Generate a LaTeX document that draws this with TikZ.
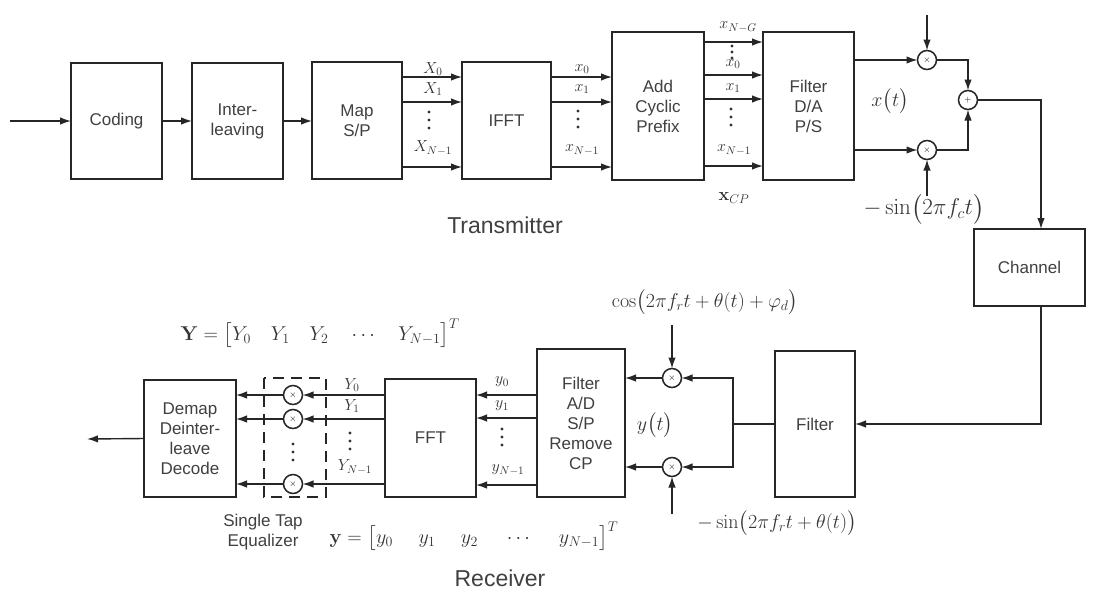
\RequirePackage{fix-cm}
\documentclass[tikz,border=0pt]{standalone}
\usepackage{amsmath}
\usepackage[no-math]{fontspec}
\setmainfont{Liberation Sans}
\usetikzlibrary{arrows.meta,calc}
\newcommand\vd[3][8]{\foreach \k in {-1,0,1}{\fill[black!80] ({#2},{#3+#1*(\k)}) circle (1.7pt);}}
\begin{document}
\begin{tikzpicture}[x=1pt,y=-1pt,
  box/.style={draw=black!85, line width=1.8pt, align=center, font=\fontsize{17}{20}\selectfont, text=black!75, inner sep=0pt, outer sep=0pt},
  arr/.style={draw=black!85, line width=1.4pt, -{Latex[length=11pt,width=7.5pt]}},
  ln/.style={draw=black!85, line width=1.4pt},
  mix/.style={circle, draw=black!85, line width=1.5pt, minimum size=19pt, inner sep=0pt, outer sep=0pt, font=\fontsize{9}{9}\selectfont},
  lbl/.style={font=\fontsize{16}{18}\selectfont, text=black!80, inner sep=0pt},
  big/.style={font=\fontsize{20}{24}\selectfont, text=black!80, inner sep=0pt},
  title/.style={font=\fontsize{23}{26}\selectfont, text=black!75, inner sep=0pt}]
\useasboundingbox (0,0) rectangle (1098,590);
\fill[white] (0,0) rectangle (1098,590);

% ---------------- Transmitter ----------------
\node[box, minimum width=91pt, minimum height=116pt] (coding) at (116.5,121) {Coding};
\node[box, minimum width=91pt, minimum height=116pt] (inter) at (237.5,121) {Inter-\\leaving};
\node[box, minimum width=90pt, minimum height=117pt] (map) at (357,120.5) {Map\\S/P};
\node[box, minimum width=89pt, minimum height=117pt] (ifft) at (506.5,120.5) {IFFT};
\node[box, minimum width=92pt, minimum height=148pt] (addcp) at (658,106) {Add\\Cyclic\\Prefix};
\node[box, minimum width=91pt, minimum height=148pt] (filt) at (808.5,106) {Filter\\D/A\\P/S};

\coordinate (in) at (10,121);
\draw[arr] (in) -- (coding.west);
\draw[arr] (coding.east) -- (inter.west);
\draw[arr] (inter.east) -- (map.west |- inter.east);

\foreach \yy in {77,102,167} {
  \draw[arr] (map.east |- 0,\yy) -- (ifft.west |- 0,\yy);
  \draw[arr] (ifft.east |- 0,\yy) -- (addcp.west |- 0,\yy);
}
\foreach \yy in {42,75,99,166} {
  \draw[arr] (addcp.east |- 0,\yy) -- (filt.west |- 0,\yy);
}

\node[lbl] (lX0) at (433,69) {$X_0$};
\node[lbl] (lX1) at (433,89) {$X_1$};
\vd{429}{120}
\node[lbl] (lXN) at (433,148) {$X_{N-1}$};

\node[lbl] (lx0) at (582,69) {$x_0$};
\node[lbl] (lx1) at (582,89) {$x_1$};
\vd{578}{119}
\node[lbl] (lxN) at (582,150) {$x_{N-1}$};

\node[lbl] (lxNG) at (738,27) {$x_{N-G}$};
\vd[6]{732}{52}
\node[lbl] (lxc0) at (733,64) {$x_0$};
\node[lbl] (lxc1) at (733,88) {$x_1$};
\vd{731}{117}
\node[lbl] (lxcN) at (734,150) {$x_{N-1}$};
\node[lbl, font=\fontsize{18}{20}\selectfont] (xcp) at (734,198) {$\mathbf{x}_{CP}$};

% mixers tx
\node[mix] (m1) at (927,60) {$\times$};
\node[mix] (m2) at (927,150) {$\times$};
\node[mix] (add) at (968,100) {$+$};
\coordinate (lo1) at (927,15);
\coordinate (lo2) at (927,196);
\draw[arr] (filt.east |- m1) -- (m1.west);
\draw[arr] (filt.east |- m2) -- (m2.west);
\draw[arr] (lo1) -- (m1.north);
\draw[arr] (lo2) -- (m2.south);
\draw[arr] (m1.east) -| (add.north);
\draw[arr] (m2.east) -| (add.south);
\node[big] (xt) at (890,101) {$x\bigl(t\bigr)$};
\node[big, font=\fontsize{23}{26}\selectfont] (sinc) at (924,209) {$-\sin\bigl(2\pi f_c t\bigr)$};

\node[title] (tx) at (505,225) {Transmitter};

% channel
\node[box, line width=1.5pt, minimum width=111pt, minimum height=77pt] (chan) at (1029.5,267.5) {Channel};
\draw[arr] (add.east) -| (chan.north -| 1041,0);

% ---------------- Receiver ----------------
\node[box, minimum width=80pt, minimum height=146pt] (rfilt) at (815,424) {Filter};
\node[box, minimum width=88pt, minimum height=148pt] (radc) at (581,423) {Filter\\A/D\\S/P\\Remove\\CP};
\node[box, minimum width=91pt, minimum height=118pt] (fft) at (430.5,438) {FFT};
\node[box, minimum width=92pt, minimum height=117pt] (demap) at (190,438.5) {Demap\\Deinter-\\leave\\Decode};

\draw[arr] (chan.south -| 1041,0) |- (rfilt.east);

\node[mix] (rm1) at (672,378) {$\times$};
\node[mix] (rm2) at (672,467) {$\times$};
\coordinate (j) at (733,424);
\draw[ln] (rfilt.west) -- (j);
\draw[arr] (j) |- (rm1.east);
\draw[arr] (j) |- (rm2.east);
\draw[arr] (rm1.west) -- (radc.east |- rm1);
\draw[arr] (rm2.west) -- (radc.east |- rm2);
\coordinate (cosin) at (672,325);
\coordinate (sinin) at (672,514);
\draw[arr] (cosin) -- (rm1.north);
\draw[arr] (sinin) -- (rm2.south);
\node[big] (cosl) at (705,302) {$\cos\bigl(2\pi f_r t+\theta(t)+\varphi_d\bigr)$};
\node[big] (sinl) at (777,523) {$-\sin\bigl(2\pi f_r t+\theta(t)\bigr)$};
\node[big] (yt) at (655,425) {$y\bigl(t\bigr)$};

\foreach \yy in {395,418,485} {
  \draw[arr] (radc.west |- 0,\yy) -- (fft.east |- 0,\yy);
}
\node[lbl] (ly0) at (502,382) {$y_0$};
\node[lbl] (ly1) at (502,406) {$y_1$};
\vd{502}{437}
\node[lbl] (lyN) at (508,470) {$y_{N-1}$};

% equalizer
\node[mix] (e1) at (293,395) {$\times$};
\node[mix] (e2) at (293,419) {$\times$};
\node[mix] (e3) at (293,484) {$\times$};
\foreach \e in {e1,e2,e3} {
  \draw[arr] (fft.west |- \e) -- (\e.east);
  \draw[arr] (\e.west) -- (demap.east |- \e);
}
\vd{293}{452}
\draw[draw=black!85, line width=1.3pt, dash pattern=on 11pt off 7pt] (264,378) rectangle (326,497);

\node[lbl] (lY0) at (352,385) {$Y_0$};
\node[lbl] (lY1) at (352,406) {$Y_1$};
\vd{350}{441}
\node[lbl] (lYN) at (355,467) {$Y_{N-1}$};

\coordinate (out) at (87,439);
\draw[arr] (demap.west) -- (out);

\node[font=\fontsize{17}{20}\selectfont, text=black!75, align=center, inner sep=0pt] (stq) at (263,532) {Single Tap\\Equalizer};

\node[big] (Yvec) at (320,333) {$\mathbf{Y}=\bigl[Y_0\quad Y_1\quad Y_2\quad \cdots\quad Y_{N-1}\bigr]^T$};
\node[big] (yvec) at (474,536) {$\mathbf{y}=\bigl[y_0\quad\; y_1\quad\; y_2\quad\; \cdots\quad\; y_{N-1}\bigr]^T$};

\node[title] (rx) at (500,578) {Receiver};
\end{tikzpicture}
\end{document}
